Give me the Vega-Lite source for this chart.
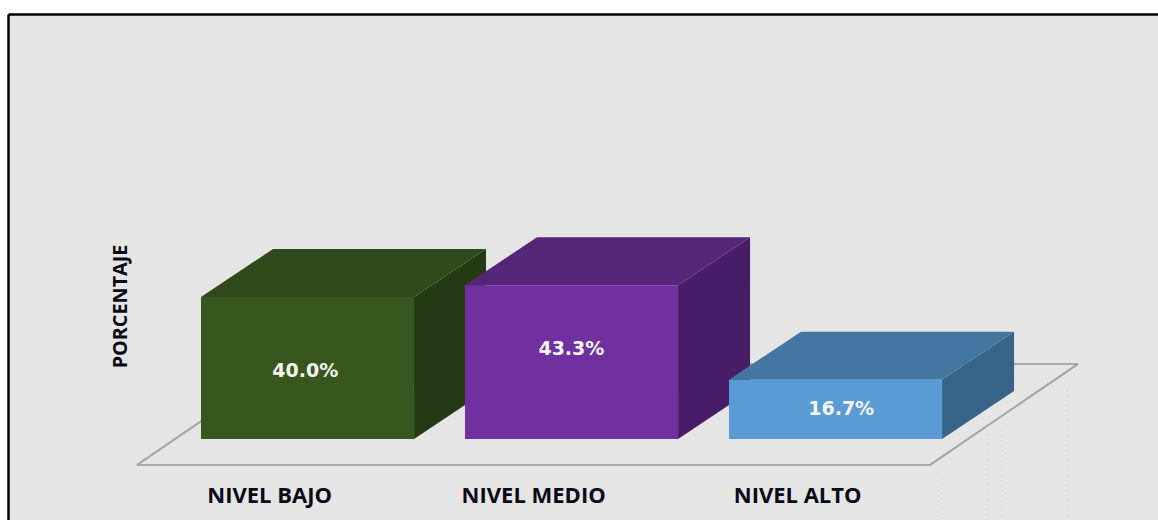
{
  "$schema": "https://vega.github.io/schema/vega-lite/v6.json",
  "autosize": "none",
  "width": 1150,
  "height": 506,
  "padding": {"left": 8, "top": 14, "right": 0, "bottom": 0},
  "background": "#ffffff",
  "config": {"view": {"fill": "#e5e5e5", "stroke": null}},
  "data": {"values": [
    {"nivel": "NIVEL BAJO", "pct": 40.0},
    {"nivel": "NIVEL MEDIO", "pct": 43.3},
    {"nivel": "NIVEL ALTO", "pct": 16.7}
  ]},
  "transform": [
    {"window": [{"op": "row_number", "as": "orden"}]}
  ],
  "encoding": {
    "x": {
      "type": "quantitative",
      "scale": {"domain": [0.269, 4.625], "nice": false, "zero": false},
      "axis": {"orient": "top", "title": null, "labels": false, "ticks": false, "grid": false, "domain": true, "domainColor": "#000000", "domainWidth": 2.5}
    },
    "y": {
      "type": "quantitative",
      "scale": {"domain": [-22.82, 119.72], "nice": false, "zero": false},
      "axis": {
        "title": "PORCENTAJE", "labels": false, "ticks": false, "grid": false, "domain": true, "domainColor": "#000000", "domainWidth": 2.5,
        "titleX": 112, "titleY": 292, "titleAngle": 270, "titleAlign": "center", "titleBaseline": "middle",
        "titleFont": "Open Sans", "titleFontWeight": "bold", "titleFontSize": 19.8, "titleColor": "#0a0a14"
      }
    }
  },
  "layer": [
    {
      "mark": {"type": "rule", "color": "#d9d9d9", "strokeWidth": 1, "strokeDash": [1, 4]},
      "encoding": {"x": {"datum": 3.807}, "y": {"datum": -11}, "y2": {"datum": -22.8}}
    },
    {
      "mark": {"type": "rule", "color": "#d9d9d9", "strokeWidth": 1, "strokeDash": [1, 4]},
      "encoding": {"x": {"datum": 3.977}, "y": {"datum": 0}, "y2": {"datum": -22.8}}
    },
    {
      "mark": {"type": "rule", "color": "#d9d9d9", "strokeWidth": 1, "strokeDash": [1, 4]},
      "encoding": {"x": {"datum": 4.034}, "y": {"datum": 2.5}, "y2": {"datum": -22.8}}
    },
    {
      "mark": {"type": "rule", "color": "#d9d9d9", "strokeWidth": 1, "strokeDash": [1, 4]},
      "encoding": {"x": {"datum": 4.28}, "y": {"datum": 13.8}, "y2": {"datum": -22.8}}
    },
    {
      "mark": {"type": "rule", "color": "#a8a8a8", "strokeWidth": 1.6},
      "encoding": {"x": {"datum": 0.7576}, "x2": {"datum": 3.761}, "y": {"datum": -7.32}, "y2": {"datum": -7.32}}
    },
    {
      "mark": {"type": "rule", "color": "#a8a8a8", "strokeWidth": 1.6},
      "encoding": {"x": {"datum": 3.761}, "x2": {"datum": 4.322}, "y": {"datum": -7.32}, "y2": {"datum": 21.13}}
    },
    {
      "mark": {"type": "rule", "color": "#a8a8a8", "strokeWidth": 1.6},
      "encoding": {"x": {"datum": 4.322}, "x2": {"datum": 1.318}, "y": {"datum": 21.13}, "y2": {"datum": 21.13}}
    },
    {
      "mark": {"type": "rule", "color": "#a8a8a8", "strokeWidth": 1.6},
      "encoding": {"x": {"datum": 1.318}, "x2": {"datum": 0.7576}, "y": {"datum": 21.13}, "y2": {"datum": -7.32}}
    },
    {
      "transform": [
        {"fold": ["frente", "fondo"], "as": ["cara", "sin_valor"]},
        {"calculate": "datum.cara === 'fondo' ? 1 : 0", "as": "atras"},
        {"calculate": "datum.orden + 0.807 + datum.atras * 0.2727", "as": "lado_x"},
        {"calculate": "datum.atras * 13.52", "as": "lado_y0"},
        {"calculate": "datum.pct + datum.atras * 13.52", "as": "lado_y1"}
      ],
      "mark": {"type": "area", "orient": "vertical"},
      "encoding": {
        "x": {"field": "lado_x"},
        "y": {"field": "lado_y1"},
        "y2": {"field": "lado_y0"},
        "detail": {"field": "nivel"},
        "color": {
          "field": "nivel", "type": "nominal", "legend": null,
          "scale": {"domain": ["NIVEL BAJO", "NIVEL MEDIO", "NIVEL ALTO"], "range": ["#243a14", "#481d68", "#38648a"]}
        }
      }
    },
    {
      "transform": [
        {"fold": ["frente", "fondo"], "as": ["cara", "sin_valor"]},
        {"calculate": "datum.cara === 'fondo' ? 1 : 0", "as": "atras"},
        {"calculate": "datum.orden + datum.atras * 0.2727", "as": "tapa_x0"},
        {"calculate": "datum.tapa_x0 + 0.807", "as": "tapa_x1"},
        {"calculate": "datum.pct + datum.atras * 13.52", "as": "tapa_y"}
      ],
      "mark": {"type": "area", "orient": "horizontal"},
      "encoding": {
        "x": {"field": "tapa_x0"},
        "x2": {"field": "tapa_x1"},
        "y": {"field": "tapa_y"},
        "detail": {"field": "nivel"},
        "color": {
          "field": "nivel", "type": "nominal", "legend": null,
          "scale": {"domain": ["NIVEL BAJO", "NIVEL MEDIO", "NIVEL ALTO"], "range": ["#2e4a1b", "#552678", "#4476a2"]}
        }
      }
    },
    {
      "transform": [
        {"calculate": "datum.orden + 0.807", "as": "fin"}
      ],
      "mark": {"type": "rect"},
      "encoding": {
        "x": {"field": "orden"},
        "x2": {"field": "fin"},
        "y": {"field": "pct"},
        "y2": {"datum": 0},
        "color": {
          "field": "nivel", "type": "nominal", "legend": null,
          "scale": {"domain": ["NIVEL BAJO", "NIVEL MEDIO", "NIVEL ALTO"], "range": ["#38571f", "#7030a0", "#5b9bd5"]}
        }
      }
    },
    {
      "transform": [
        {"calculate": "datum.orden + (datum.nivel === 'NIVEL BAJO' ? 0.395 : datum.nivel === 'NIVEL MEDIO' ? 0.403 : 0.425)", "as": "centro"},
        {"calculate": "datum.pct * (datum.nivel === 'NIVEL BAJO' ? 0.48 : datum.nivel === 'NIVEL MEDIO' ? 0.585 : 0.5)", "as": "altura"},
        {"calculate": "format(datum.pct, '.1f') + '%'", "as": "texto"}
      ],
      "mark": {"type": "text", "font": "DejaVu Sans", "fontWeight": "bold", "fontSize": 19, "color": "#f4f6f0", "align": "center", "baseline": "middle"},
      "encoding": {
        "x": {"field": "centro"},
        "y": {"field": "altura"},
        "text": {"field": "texto", "type": "nominal"}
      }
    },
    {
      "transform": [
        {"calculate": "datum.orden + 0.26", "as": "centro"}
      ],
      "mark": {"type": "text", "font": "Open Sans", "fontWeight": "bold", "fontSize": 22, "color": "#0a0a14", "align": "center", "baseline": "middle"},
      "encoding": {
        "x": {"field": "centro"},
        "y": {"datum": -16.2},
        "text": {"field": "nivel", "type": "nominal"}
      }
    }
  ],
  "resolve": {"scale": {"color": "independent"}}
}
